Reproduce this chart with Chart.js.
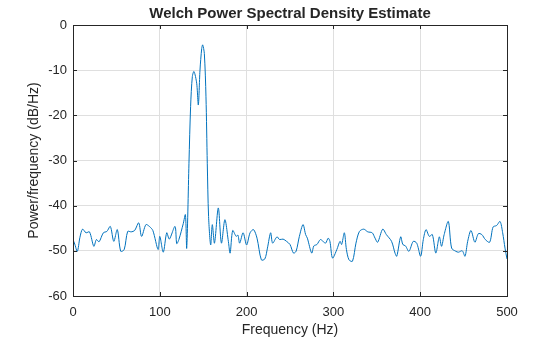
<!DOCTYPE html>
<html>
<head>
<meta charset="utf-8">
<script src="https://cdn.jsdelivr.net/npm/chart.js@4.4.0/dist/chart.umd.min.js"></script>
<style>
html,body{margin:0;padding:0;background:#fff;}
#wrap{width:560px;height:337px;}
</style>
</head>
<body>
<div id="wrap"><canvas id="c" width="560" height="337"></canvas></div>
<script>
const chartTitle = "Welch Power Spectral Density Estimate";
const xAxisLabel = "Frequency (Hz)";
const yAxisLabel = "Power/frequency (dB/Hz)";
const xTicks = [0, 100, 200, 300, 400, 500];
const yTicks = [0, -10, -20, -30, -40, -50, -60];

const freqHz = [0,2,5,8,11,15,19,24,27,30,35,39,43,47,51,55,59,63,67,71,75.7,79,84,88,92,98,100,104,108,111,117.5,119.5,122,127,129.5,131,133.6,135.5,137.5,139.4,142.5,144.4,146.3,148.3,149.4,151.3,153.2,154.7,156.2,158.6,160.5,163,167.4,171,175,179,181,184,188,190,192,196,200,204,208,212,217,221,224,227.7,230,235,238,242,246,250,254,257,260.8,265,268,270,275,277.5,281,285,288,291,294,296,299,304,307.6,309.5,312.6,315,318,322,326,330,335,339.6,344.7,348,351,356.8,361,367,371,373,377.5,380,383,387,392,396,400.5,403.6,406.7,410.5,414,418,422,424.6,427.6,432.4,436.2,441,444,448.5,451.6,454.7,458.5,463,467,471,475,480,484,488,492,495,497.7,500];
const psdDb = [-47.5,-48.5,-50.1,-47,-45.2,-46,-45.8,-49,-47.5,-48,-46,-45.7,-44.6,-47.9,-45.3,-50.1,-49.7,-45.7,-45.8,-45.5,-43.8,-46.8,-44.2,-44.6,-45.5,-49.7,-46.8,-50.3,-46,-47.4,-44.6,-48.4,-47.5,-44,-42,-49.4,-30.6,-18,-11.4,-10.3,-12.9,-17.7,-10,-5.2,-4.4,-6.3,-15.9,-30.6,-42.4,-48.7,-44.2,-48.3,-40.5,-48.3,-43.1,-47.9,-50.5,-45.5,-46.8,-46.5,-48.3,-46,-48.7,-46,-45.3,-47.2,-52,-51.8,-49.4,-46,-48.3,-46.9,-47.5,-47.4,-47.9,-48.6,-50.5,-50.1,-46.8,-44.2,-46.4,-47.2,-50.5,-48.9,-48.6,-47.5,-47.9,-48.3,-47.2,-47.9,-51.6,-49.7,-47.9,-48.6,-46,-49.7,-52,-52.3,-48.3,-45.7,-45.2,-45.8,-46,-47.2,-48.1,-45.2,-46.4,-47.9,-50.5,-51.2,-46.9,-48.6,-48.9,-50.1,-47.9,-48.3,-51.2,-47.5,-45.3,-46.8,-46.4,-50.5,-46.9,-49,-46.4,-43.5,-49.4,-50.1,-50.3,-50,-51.2,-47.9,-45.5,-48.1,-46.2,-46.4,-47.5,-48.1,-44.7,-44.4,-43.5,-46,-49.4,-51.8];

const points = freqHz.map((f, i) => ({x: f, y: psdDb[i]}));
const FONT = "'Liberation Sans', Arial, sans-serif";
const TXT = '#262626';

const boxPlugin = {
  id: 'box',
  afterDraw(chart) {
    const {ctx, chartArea: a} = chart;
    ctx.save();
    ctx.strokeStyle = TXT;
    ctx.lineWidth = 1;
    ctx.strokeRect(Math.round(a.left) + 0.5, Math.round(a.top) + 0.5, Math.round(a.right - a.left), Math.round(a.bottom - a.top));
    const xs = chart.scales.x, ys = chart.scales.y;
    ctx.beginPath();
    xTicks.forEach(v => {
      const px = Math.round(xs.getPixelForValue(v)) + 0.5;
      ctx.moveTo(px, a.bottom); ctx.lineTo(px, a.bottom - 4);
      ctx.moveTo(px, a.top); ctx.lineTo(px, a.top + 4);
    });
    yTicks.forEach(v => {
      const py = Math.round(ys.getPixelForValue(v)) + 0.5;
      ctx.moveTo(a.left, py); ctx.lineTo(a.left + 4, py);
      ctx.moveTo(a.right, py); ctx.lineTo(a.right - 4, py);
    });
    ctx.stroke();
    ctx.fillStyle = TXT;
    ctx.font = "bold 15px " + FONT;
    ctx.textAlign = 'center';
    ctx.textBaseline = 'middle';
    ctx.fillText(chartTitle, (a.left + a.right) / 2, 14);
    ctx.restore();
  }
};

new Chart(document.getElementById('c'), {
  type: 'line',
  data: {
    datasets: [{
      data: points,
      borderColor: '#0072BD',
      borderWidth: 1,
      pointRadius: 0,
      tension: 0.3,
      fill: false
    }]
  },
  options: {
    responsive: false,
    animation: false,
    events: [],
    layout: {padding: {top: 25, right: 53, left: 0, bottom: 0}},
    plugins: {legend: {display: false}, tooltip: {enabled: false}, title: {display: false}},
    scales: {
      x: {
        type: 'linear', min: 0, max: 500,
        afterFit(s) { s.height = 41; },
        afterBuildTicks(s) { s.ticks = xTicks.map(v => ({value: v})); },
        grid: {color: '#dfdfdf', drawTicks: false, drawOnChartArea: true},
        border: {display: false},
        ticks: {color: TXT, font: {family: FONT, size: 13}, padding: 9, maxRotation: 0},
        title: {display: true, text: xAxisLabel, color: TXT, font: {family: FONT, size: 14}, padding: {top: 0, bottom: -2}}
      },
      y: {
        type: 'linear', min: -60, max: 0,
        afterFit(s) { s.width = 73; },
        afterBuildTicks(s) { s.ticks = yTicks.map(v => ({value: v})); },
        grid: {color: '#dfdfdf', drawTicks: false},
        border: {display: false},
        ticks: {color: TXT, font: {family: FONT, size: 13}, padding: 6},
        title: {display: true, text: yAxisLabel, color: TXT, font: {family: FONT, size: 14}, padding: {top: 26, bottom: 0}}
      }
    }
  },
  plugins: [boxPlugin]
});
</script>
</body>
</html>
